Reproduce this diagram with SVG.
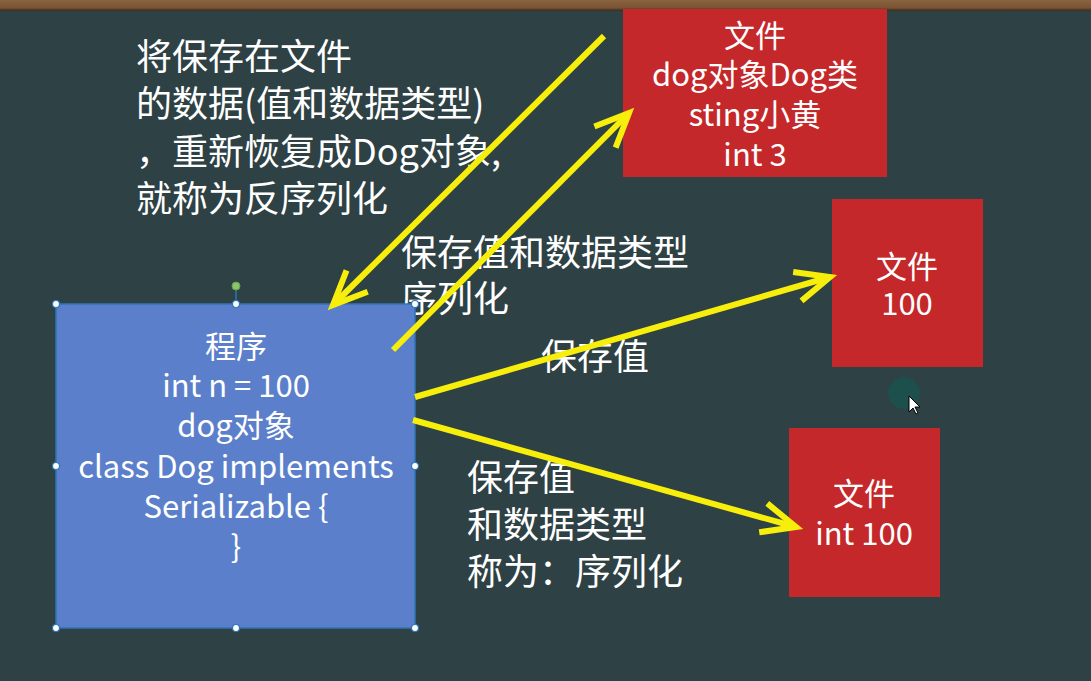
<svg xmlns="http://www.w3.org/2000/svg" width="1091" height="681" viewBox="0 0 1091 681">
<defs>
<style>
.t{font-family:"Noto Sans CJK SC","Noto Sans",sans-serif;fill:#ffffff}
.big{font-size:36px}
.mid{font-size:31px;text-anchor:middle}
.red{fill:#c4282a}
.arr{stroke:#f7ee0c;stroke-width:6;fill:none;stroke-linecap:butt}
.h{fill:#ffffff;stroke:#2e75b6;stroke-width:1.2}
</style>
<marker id="ah" markerUnits="userSpaceOnUse" viewBox="-40 -20 44 40" refX="0" refY="0" markerWidth="44" markerHeight="40" orient="auto" overflow="visible">
<path d="M -34 -15 L 0 0 L -34 15" fill="none" stroke="#f7ee0c" stroke-width="6" stroke-linejoin="miter"/>
</marker>
<linearGradient id="wood" x1="0" y1="0" x2="0" y2="1">
<stop offset="0" stop-color="#8a6440"/>
<stop offset="0.7" stop-color="#7a5434"/>
<stop offset="1" stop-color="#3a2a1c"/>
</linearGradient>
</defs>
<rect x="0" y="0" width="1091" height="681" fill="#2e4144"/>
<rect x="0" y="0" width="1091" height="11" fill="url(#wood)"/>

<g id="text-deserialize">
<text class="t big" x="136" y="70">将保存在文件</text>
<text class="t big" x="136" y="117">的数据(值和数据类型)</text>
<text class="t big" x="136" y="165">，重新恢复成Dog对象,</text>
<text class="t big" x="136" y="212">就称为反序列化</text>
</g>
<g id="text-serialize1">
<text class="t big" x="401" y="266">保存值和数据类型</text>
<text class="t big" x="401" y="312">序列化</text>
</g>
<g id="text-save">
<text class="t big" x="541" y="370">保存值</text>
</g>
<g id="text-serialize2">
<text class="t big" x="467" y="491">保存值</text>
<text class="t big" x="467" y="538">和数据类型</text>
<text class="t big" x="467" y="585">称为：序列化</text>
</g>

<g id="file1">
<rect class="red" x="623" y="9" width="264" height="168"/>
<text class="t mid" x="755" y="47">文件</text>
<text class="t mid" x="755" y="86">dog对象Dog类</text>
<text class="t mid" x="755" y="126">sting小黄</text>
<text class="t mid" x="755" y="166">int 3</text>
</g>
<g id="file2">
<rect class="red" x="832" y="199" width="151" height="168"/>
<text class="t mid" x="907" y="278">文件</text>
<text class="t mid" x="907" y="315">100</text>
</g>
<g id="file3">
<rect class="red" x="789" y="428" width="151" height="169"/>
<text class="t mid" x="864" y="505">文件</text>
<text class="t mid" x="864" y="545">int 100</text>
</g>

<g id="program">
<rect x="56" y="304" width="359" height="324" fill="#5b7fca" stroke="#2e75b6" stroke-width="1.5"/>
<text class="t mid" x="236" y="358">程序</text>
<text class="t mid" x="236" y="397">int n = 100</text>
<text class="t mid" x="236" y="437">dog对象</text>
<text class="t mid" x="236" y="478">class Dog implements</text>
<text class="t mid" x="236" y="518">Serializable {</text>
<text class="t mid" x="236" y="558">}</text>
<line x1="236" y1="290" x2="236" y2="304" stroke="#2e75b6" stroke-width="1.5"/>
<circle cx="236" cy="286" r="4" fill="#8cc46a" stroke="#6aa04a" stroke-width="1"/>
<circle class="h" cx="56" cy="304" r="3.5"/>
<circle class="h" cx="236" cy="304" r="3.5"/>
<circle class="h" cx="415" cy="304" r="3.5"/>
<circle class="h" cx="56" cy="466" r="3.5"/>
<circle class="h" cx="415" cy="466" r="3.5"/>
<circle class="h" cx="56" cy="628" r="3.5"/>
<circle class="h" cx="236" cy="628" r="3.5"/>
<circle class="h" cx="415" cy="628" r="3.5"/>
</g>

<g id="connectors">
<line class="arr" x1="604" y1="36" x2="333" y2="305" marker-end="url(#ah)"/>
<line class="arr" x1="393" y1="350" x2="629" y2="113" marker-end="url(#ah)"/>
<line class="arr" x1="415" y1="397" x2="830" y2="277" marker-end="url(#ah)"/>
<line class="arr" x1="413" y1="420" x2="796" y2="527" marker-end="url(#ah)"/>
</g>

<g id="cursor">
<circle cx="904" cy="393" r="16" fill="#1d4f4d"/>
<path d="M 909 396 L 909 412 L 913 408 L 916 414 L 918 413 L 915 407 L 920 407 Z" fill="#ffffff" stroke="#000000" stroke-width="1"/>
</g>
</svg>
